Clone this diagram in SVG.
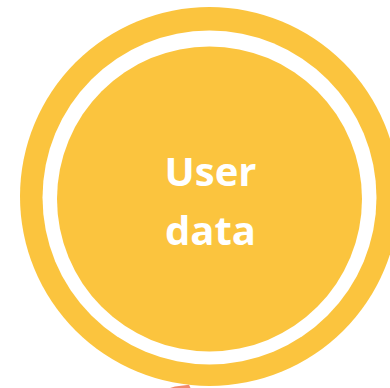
<svg xmlns="http://www.w3.org/2000/svg" width="390" height="388" viewBox="0 0 390 388">
  <style>
    .yellow { fill: #FBC43E; }
    .label { font-family: "Open Sans", "Liberation Sans", sans-serif; font-weight: bold; font-size: 40px; fill: #FFFFFF; text-anchor: middle; }
  </style>
  <rect width="390" height="388" fill="#FFFFFF"/>
  <g id="user-data">
    <circle class="yellow" cx="209.5" cy="196.5" r="189.5"/>
    <circle cx="209.5" cy="197.5" r="167" fill="#FFFFFF"/>
    <circle class="yellow" cx="209.5" cy="199" r="152.5"/>
    <text class="label" x="210.5" y="186">User</text>
    <text class="label" x="210.5" y="245">data</text>
  </g>
  <g id="accent">
    <path d="M170,388 L175,386.6 L189,384.8 L190.5,388 Z" fill="#F28A6E"/>
  </g>
</svg>
